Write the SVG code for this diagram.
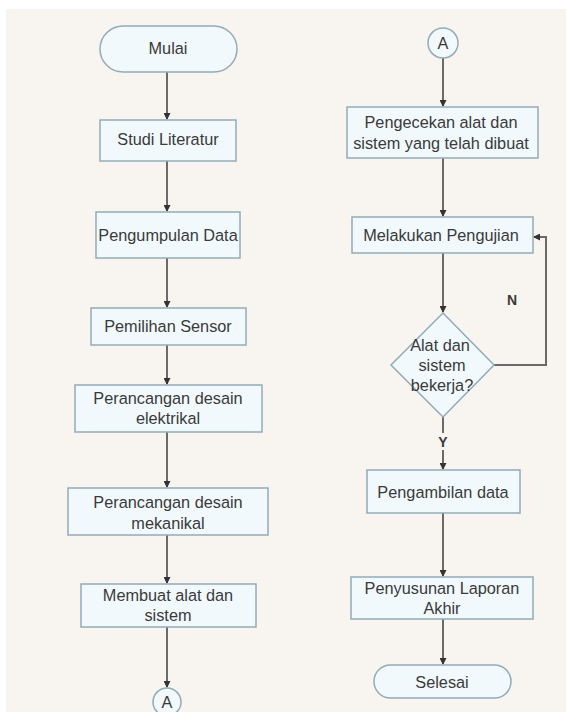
<svg xmlns="http://www.w3.org/2000/svg" width="566" height="712" viewBox="0 0 566 712">
<defs>
<style>
.bg{fill:#f8f5f1}
.box{fill:#f2f9fc;stroke:#93abb8;stroke-width:1.5}
.t{font-family:"Liberation Sans",Arial,sans-serif;font-size:16.3px;fill:#3a3a3a;text-anchor:middle}
.lbl{font-family:"Liberation Sans",Arial,sans-serif;font-size:14px;font-weight:bold;fill:#3a3a3a;text-anchor:middle}
.ln{fill:none;stroke:#6a6a6a;stroke-width:2}
</style>
<marker id="ah" markerWidth="7" markerHeight="7" refX="6" refY="3.5" orient="auto" markerUnits="userSpaceOnUse">
<path d="M0,0 L7,3.5 L0,7 Z" fill="#333"/>
</marker>
</defs>
<rect x="0" y="0" width="566" height="712" fill="#ffffff"/>
<rect class="bg" x="6" y="9" width="560" height="703"/>

<g id="connectors">
<line class="ln" x1="167" y1="72" x2="167" y2="119" marker-end="url(#ah)"/>
<line class="ln" x1="167" y1="161" x2="167" y2="211" marker-end="url(#ah)"/>
<line class="ln" x1="167" y1="258" x2="167" y2="307" marker-end="url(#ah)"/>
<line class="ln" x1="167" y1="345" x2="167" y2="384" marker-end="url(#ah)"/>
<line class="ln" x1="167" y1="432" x2="167" y2="487" marker-end="url(#ah)"/>
<line class="ln" x1="167" y1="535" x2="167" y2="583" marker-end="url(#ah)"/>
<line class="ln" x1="167" y1="627" x2="167" y2="687" marker-end="url(#ah)"/>
<line class="ln" x1="443" y1="58" x2="443" y2="106" marker-end="url(#ah)"/>
<line class="ln" x1="443" y1="158" x2="443" y2="216" marker-end="url(#ah)"/>
<line class="ln" x1="443" y1="253" x2="443" y2="312" marker-end="url(#ah)"/>
<polyline class="ln" points="494,365 546,365 546,237 534,237" marker-end="url(#ah)"/>
<line class="ln" x1="443" y1="417" x2="443" y2="433"/>
<line class="ln" x1="443" y1="450" x2="443" y2="469" marker-end="url(#ah)"/>
<line class="ln" x1="443" y1="513" x2="443" y2="576" marker-end="url(#ah)"/>
<line class="ln" x1="443" y1="619" x2="443" y2="664" marker-end="url(#ah)"/>
<text class="lbl" x="512" y="305">N</text>
<text class="lbl" x="443" y="447">Y</text>
</g>

<g id="mulai">
<rect class="box" x="100" y="26" width="137" height="46" rx="23" ry="23"/>
<text class="t" x="168" y="54">Mulai</text>
</g>
<g id="studi">
<rect class="box" x="100" y="120" width="136" height="41"/>
<text class="t" x="168" y="145">Studi Literatur</text>
</g>
<g id="pengumpulan">
<rect class="box" x="96" y="212" width="144" height="46"/>
<text class="t" x="168" y="241">Pengumpulan Data</text>
</g>
<g id="pemilihan">
<rect class="box" x="91" y="308" width="155" height="37"/>
<text class="t" x="168" y="332">Pemilihan Sensor</text>
</g>
<g id="elektrikal">
<rect class="box" x="75" y="385" width="187" height="47"/>
<text class="t" x="168" y="404">Perancangan desain</text>
<text class="t" x="168" y="424">elektrikal</text>
</g>
<g id="mekanikal">
<rect class="box" x="68" y="488" width="200" height="47"/>
<text class="t" x="168" y="508">Perancangan desain</text>
<text class="t" x="168" y="529">mekanikal</text>
</g>
<g id="membuat">
<rect class="box" x="81" y="584" width="175" height="43"/>
<text class="t" x="168" y="601">Membuat alat dan</text>
<text class="t" x="168" y="621">sistem</text>
</g>
<g id="conA1">
<circle class="box" cx="167" cy="702" r="14"/>
<text class="t" x="167" y="708">A</text>
</g>
<g id="conA2">
<circle class="box" cx="443" cy="43" r="15"/>
<text class="t" x="443" y="49">A</text>
</g>
<g id="pengecekan">
<rect class="box" x="347" y="107" width="191" height="51"/>
<text class="t" x="441" y="128">Pengecekan alat dan</text>
<text class="t" x="441" y="149">sistem yang telah dibuat</text>
</g>
<g id="pengujian">
<rect class="box" x="352" y="217" width="181" height="36"/>
<text class="t" x="441" y="241">Melakukan Pengujian</text>
</g>
<g id="keputusan">
<polygon class="box" points="443,313 494,365 443,417 391,365"/>
<text class="t" x="440" y="351">Alat dan</text>
<text class="t" x="442" y="371">sistem</text>
<text class="t" x="442" y="391">bekerja?</text>
</g>
<g id="pengambilan">
<rect class="box" x="367" y="470" width="153" height="43"/>
<text class="t" x="443" y="498">Pengambilan data</text>
</g>
<g id="penyusunan">
<rect class="box" x="351" y="577" width="182" height="42"/>
<text class="t" x="442" y="594">Penyusunan Laporan</text>
<text class="t" x="442" y="614">Akhir</text>
</g>
<g id="selesai">
<rect class="box" x="374" y="665" width="137" height="33" rx="16.5" ry="16.5"/>
<text class="t" x="442" y="688">Selesai</text>
</g>
</svg>
